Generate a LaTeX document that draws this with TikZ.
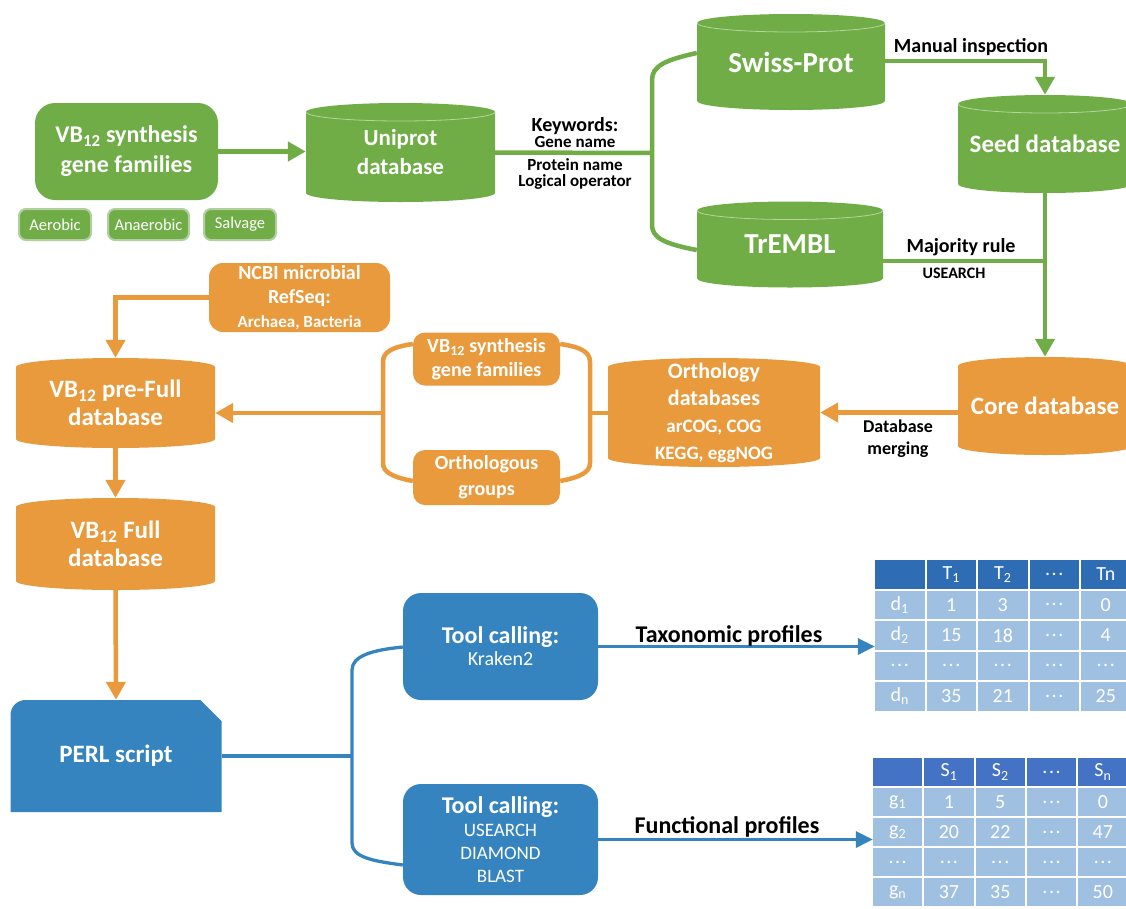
\documentclass[tikz,border=0pt]{standalone}
\usepackage{fontspec}
\setmainfont{Carlito}
\usetikzlibrary{arrows.meta,calc}
\definecolor{gr}{HTML}{70AD47}
\definecolor{grtop}{HTML}{B5D49F}
\definecolor{grglow}{HTML}{B3CFA0}
\definecolor{orc}{HTML}{E99A3D}
\definecolor{bl}{HTML}{3584BF}
\definecolor{hdA}{HTML}{2E6DB4}
\definecolor{hdB}{HTML}{4472C4}
\definecolor{cellc}{HTML}{9FC0E1}
\newcommand{\fsz}[2]{\fontsize{#1}{#2}\selectfont}
\newcommand{\tdots}{.\kern1.5pt.\kern1.5pt.}
\tikzset{
  rbox/.style 2 args={fill=#1, rounded corners=#2, text=white, align=center, inner sep=0pt},
  dbcyl/.style 2 args={rectangle, inner sep=0pt, text=white, align=center,
    path picture={
      \fill[#1] let \p1=(path picture bounding box.north west),
                 \p2=(path picture bounding box.south east),
                 \n1={(\x2-\x1)/2} in
        (\x1,\y1-9pt) -- (\x1,\y2+9pt)
        arc[start angle=180,end angle=360,x radius=\n1,y radius=9pt]
        -- (\x2,\y1-9pt)
        arc[start angle=0,end angle=180,x radius=\n1,y radius=9pt] -- cycle;
      \draw[#2, line width=0.8pt] let \p1=(path picture bounding box.north west),
                 \p2=(path picture bounding box.south east),
                 \n1={(\x2-\x1)/2} in
        (\x1,\y1-9pt) arc[start angle=180,end angle=360,x radius=\n1,y radius=9pt];
    }},
  perlshape/.style={rectangle, inner sep=0pt, text=white, align=center,
    path picture={
      \fill[bl] let \p1=(path picture bounding box.north west),
                 \p2=(path picture bounding box.south east) in
        (\x1,\y2) -- (\x1,\y1-15pt) arc[start angle=180,end angle=90,radius=15pt]
        -- (\x2-21pt,\y1) -- (\x2,\y1-21pt) -- (\x2,\y2) -- cycle;
    }},
  gline/.style={draw=gr, line width=4.5pt},
  garrow/.style={gline, -{Triangle[length=18pt,width=19pt]}},
  oline/.style={draw=orc, line width=4.5pt},
  oarrow/.style={oline, -{Triangle[length=18pt,width=19pt]}},
  bline/.style={draw=bl, line width=3.3pt},
  barrow/.style={bline, -{Triangle[length=17pt,width=16pt]}},
  lbl/.style={text=black, inner sep=0pt, anchor=base},
  cellbox/.style={rectangle, inner sep=0pt, text=white, font=\fsz{20}{24}},
}
\begin{document}
\begin{tikzpicture}[x=1pt,y=-1pt]
\useasboundingbox (0,0) rectangle (1126,908);
\fill[white] (0,0) rectangle (1126,908);

% ---------------- green part ----------------
\node[rbox={gr}{20pt}, minimum width=183pt, minimum height=97pt, font=\bfseries\fsz{24}{30}] (vbg) at (126.5,151.5) {VB\textsubscript{12} synthesis\\gene families};
\node[rbox={gr}{7pt}, draw=grglow, line width=2pt, minimum width=72pt, minimum height=31pt, font=\fsz{16.5}{19}] (aer) at (55,224.5) {Aerobic};
\node[rbox={gr}{7pt}, draw=grglow, line width=2pt, minimum width=81pt, minimum height=31pt, font=\fsz{16.5}{19}] (ana) at (148.5,224.5) {Anaerobic};
\node[rbox={gr}{7pt}, draw=grglow, line width=2pt, minimum width=72pt, minimum height=31pt, font=\fsz{16.5}{19}] (sal) at (240,224.5) {Salvage};

\node[dbcyl={gr}{grtop}, minimum width=189pt, minimum height=99pt, font=\bfseries\fsz{23}{29}] (uni) at (400.5,152.5) {Uniprot\\database};
\node[dbcyl={gr}{grtop}, minimum width=188pt, minimum height=96pt, font=\bfseries\fsz{29}{34}] (sp) at (791,62) {Swiss-Prot};
\node[dbcyl={gr}{grtop}, minimum width=186pt, minimum height=86pt, font=\bfseries\fsz{29}{34}] (tr) at (790,244.5) {TrEMBL};
\node[dbcyl={gr}{grtop}, minimum width=174pt, minimum height=98pt, font=\bfseries\fsz{25}{30}] (seed) at (1045,144) {Seed database};
\node[dbcyl={orc}{orc}, minimum width=174pt, minimum height=98pt, font=\bfseries\fsz{25}{30}] (core) at (1045,406) {Core database};

\draw[garrow] (vbg.east) -- (vbg.east -| uni.west);
\coordinate (gj) at (652,153);
\draw[gline] (uni.east) -- (gj);
\draw[gline] ([yshift=9pt]sp.west) .. controls (665,60) and (652,66) .. (652,80) -- (652,225) .. controls (652,238) and (665,244) .. ([yshift=-5.5pt]tr.west);
\draw[garrow] ([yshift=1pt]sp.east) -| (seed.north);
\draw[garrow] (seed.south) -- (core.north);
\coordinate (tj) at ([yshift=-16.5pt]tr.east);
\draw[gline] (tj) -- (tj -| seed.south);

\node[lbl, font=\bfseries\fsz{20}{24}] (kwa) at (575,131) {Keywords:};
\node[lbl, font=\bfseries\fsz{17}{20}] (kwb) at (575,147) {Gene name};
\node[lbl, font=\bfseries\fsz{17}{20}] (kwc) at (575,170) {Protein name};
\node[lbl, font=\bfseries\fsz{17}{20}] (kwd) at (575,186) {Logical operator};
\node[lbl, font=\bfseries\fsz{20}{24}] (mi) at (971,52) {Manual inspection};
\node[lbl, font=\bfseries\fsz{20}{24}] (mr) at (961,252) {Majority rule};
\node[lbl, font=\bfseries\fsz{16}{20}] (us) at (954,278) {USEARCH};

% ---------------- orange part ----------------
\node[rbox={orc}{14pt}, minimum width=181pt, minimum height=69pt, font=\bfseries\fsz{20}{24}] (ncbi) at (299.5,297.5) {NCBI microbial\\RefSeq:\\{\fsz{17}{22}Archaea, Bacteria}};
\node[dbcyl={orc}{orc}, minimum width=199pt, minimum height=90pt, font=\bfseries\fsz{25}{28}] (pre) at (115.5,403) {VB\textsubscript{12} pre-Full\\database};
\node[dbcyl={orc}{orc}, minimum width=199pt, minimum height=92pt, font=\bfseries\fsz{25}{28}] (full) at (115.5,544) {VB\textsubscript{12} Full\\database};
\node[rbox={orc}{12pt}, minimum width=147pt, minimum height=53pt, font=\bfseries\fsz{20}{24}] (osyn) at (486.5,359) {VB\textsubscript{12} synthesis\\gene families};
\node[rbox={orc}{12pt}, minimum width=147pt, minimum height=55pt, font=\bfseries\fsz{20}{26}] (oog) at (486.5,477.5) {Orthologous\\groups};
\node[dbcyl={orc}{orc}, minimum width=212pt, minimum height=109pt, font=\bfseries\fsz{22}{27}] (orth) at (714,412.5) {Orthology\\databases\\{\fsz{19}{25}arCOG, COG}\\{\fsz{19}{25}KEGG, eggNOG}};

\draw[oarrow] (ncbi.west) -| (pre.north);
\draw[oarrow] (pre.south) -- (full.north);
\draw[oarrow] (orth.east -| core.west) -- (orth.east);
\node[lbl, font=\bfseries\fsz{18}{22}, anchor=center, align=center] (dm) at (898,439) {Database\\merging};

\coordinate (ol) at (383,413);
\draw[oarrow] (ol) -- (ol -| pre.east);
\draw[oline] ([yshift=15pt]osyn.west) .. controls (392,347) and (383,352) .. (383,362) -- (383,463) .. controls (383,472) and (392,477) .. ([yshift=-3.5pt]oog.west);
\draw[oline] ([yshift=15pt]osyn.east) .. controls (581,347) and (590,352) .. (590,362) -- (590,463) .. controls (590,472) and (581,477) .. ([yshift=-3.5pt]oog.east);
\coordinate (orr) at (590,413);
\draw[oline] (orr) -- (orr -| orth.west);

% ---------------- blue part ----------------
\node[perlshape, minimum width=211pt, minimum height=112pt, font=\bfseries\fsz{25}{30}] (perl) at (116,756) {PERL script};
\draw[oarrow] (full.south) -- (perl.north);

\node[rbox={bl}{18pt}, minimum width=195pt, minimum height=107pt, font=\fsz{20}{22}] (tool1) at (500.5,646.5) {{\bfseries\fsz{24}{22}Tool calling:}\\Kraken2};
\node[rbox={bl}{18pt}, minimum width=195pt, minimum height=111pt, font=\fsz{19}{23}] (tool2) at (500.5,839.5) {{\bfseries\fsz{24}{23}Tool calling:}\\USEARCH\\DIAMOND\\BLAST};

\coordinate (bj) at (352,756);
\draw[bline] (perl.east) -- (bj);
\draw[bline] ([yshift=-0.5pt]tool1.west) .. controls (372,650) and (352,656) .. (352,670) -- (352,843) .. controls (352,857) and (372,861) .. ([yshift=-25.5pt]tool2.west);

% tables
\foreach \rr/\va/\vb/\vc/\vd/\ve in {0/{}/T\textsubscript{1}/T\textsubscript{2}/\tdots/Tn, 1/d\textsubscript{1}/1/3/\tdots/0, 2/d\textsubscript{2}/15/18/\tdots/4, 3/\tdots/\tdots/\tdots/\tdots/\tdots, 4/d\textsubscript{n}/35/21/\tdots/25}{
  \ifnum\rr=0 \def\cc{hdA}\else\def\cc{cellc}\fi
  \foreach \vv [count=\kk from 0] in {\va,\vb,\vc,\vd,\ve}{
    \node[cellbox, fill=\cc, minimum width=49.5pt, minimum height=28.5pt] (t-\rr-\kk) at ({899.75+51.5*\kk},{574.25+30.5*\rr}) {\vv};
  }
}
\foreach \rr/\va/\vb/\vc/\vd/\ve in {0/{}/S\textsubscript{1}/S\textsubscript{2}/\tdots/S\textsubscript{n}, 1/g\textsubscript{1}/1/5/\tdots/0, 2/g\textsubscript{2}/20/22/\tdots/47, 3/\tdots/\tdots/\tdots/\tdots/\tdots, 4/g\textsubscript{n}/37/35/\tdots/50}{
  \ifnum\rr=0 \def\cc{hdB}\else\def\cc{cellc}\fi
  \foreach \vv [count=\kk from 0] in {\va,\vb,\vc,\vd,\ve}{
    \node[cellbox, fill=\cc, minimum width=49.3pt, minimum height=28pt] (f-\rr-\kk) at ({897.65+51.3*\kk},{772+30*\rr}) {\vv};
  }
}

\draw[barrow] (tool1.east) -- (tool1.east -| t-0-0.west);
\draw[barrow] (tool2.east) -- (tool2.east -| f-0-0.west);
\node[lbl, font=\bfseries\fsz{24}{28}] (tp) at (729,642) {Taxonomic profiles};
\node[lbl, font=\bfseries\fsz{24}{28}] (fp) at (727,833) {Functional profiles};
\end{tikzpicture}
\end{document}
